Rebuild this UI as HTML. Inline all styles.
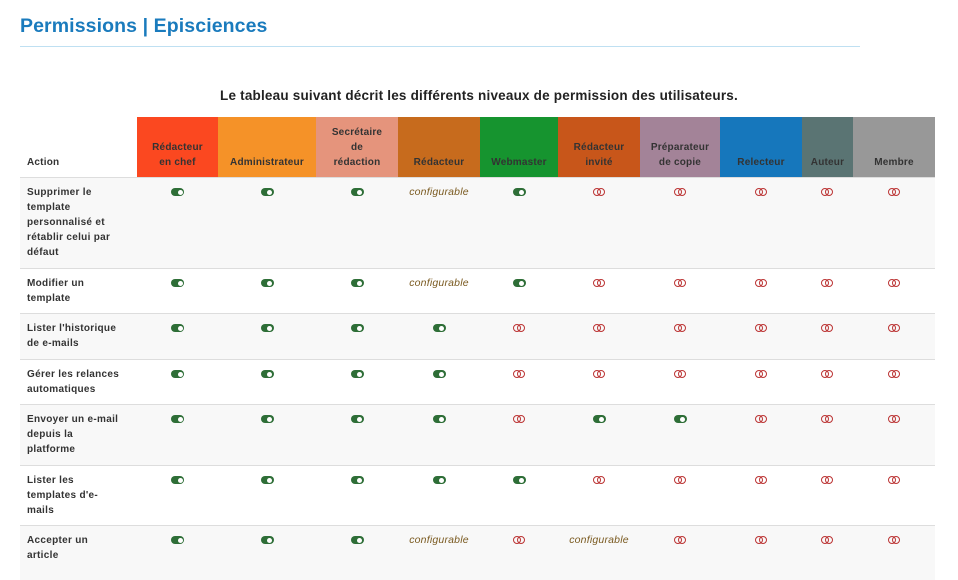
<!DOCTYPE html>
<html><head><meta charset="utf-8">
<style>
body{margin:0;width:958px;height:567px;overflow:hidden;background:#fff;font-family:"Liberation Sans",sans-serif;position:relative}
.title{position:absolute;left:20px;top:15px;font-size:19.5px;color:#1a7bbd;font-weight:bold;letter-spacing:0.1px}
.rule{position:absolute;left:20px;top:46px;width:840px;height:1px;background:#bfe0f2}
.sub{position:absolute;left:0;width:958px;top:88px;text-align:center;font-size:13.5px;font-weight:bold;color:#222;letter-spacing:0.2px}
.hc{position:absolute;top:117px;height:60px;display:flex;align-items:flex-end;justify-content:center;text-align:center;font-size:10px;font-weight:bold;color:#333;line-height:15px;padding-bottom:7px;box-sizing:border-box;letter-spacing:0.2px}
.row{position:absolute;left:20px;width:915px;border-top:1px solid #ddd;box-sizing:border-box}
.act{position:absolute;left:27px;width:110px;font-size:10px;font-weight:bold;color:#333;line-height:15px;letter-spacing:0.3px}
.cell{position:absolute;text-align:center;font-size:10.5px;line-height:15px}
.on{display:inline-block;width:13px;height:8px;border-radius:4px;background:#2e6e37;position:relative;vertical-align:middle}
.on::after{content:"";position:absolute;right:1.5px;top:1.5px;width:5px;height:5px;border-radius:50%;background:#fff}
.off{display:inline-block;width:13px;height:8px;position:relative;vertical-align:middle}
.off::before,.off::after{content:"";position:absolute;top:0;width:6px;height:6px;border:1px solid #b33;border-radius:50%}
.off::before{left:0}.off::after{left:4px}
.cfg{font-style:italic;color:#7a5a20;letter-spacing:0.2px}
</style></head><body>
<div class="title">Permissions | Episciences</div>
<div class="rule"></div>
<div class="sub">Le tableau suivant décrit les différents niveaux de permission des utilisateurs.</div>
<div id="t"></div>
<script>
const roles=["Rédacteur<br>en chef","Administrateur","Secrétaire<br>de<br>rédaction","Rédacteur","Webmaster","Rédacteur<br>invité","Préparateur<br>de copie","Relecteur","Auteur","Membre"];
const roleColors=["#fb4820","#f59228","#e5947c","#c76b1d","#16942f","#c8561a","#a38398","#1677bc","#5a7473","#989898"];
const actions=["Supprimer le<br>template<br>personnalisé et<br>rétablir celui par<br>défaut","Modifier un<br>template","Lister l'historique<br>de e-mails","Gérer les relances<br>automatiques","Envoyer un e-mail<br>depuis la<br>platforme","Lister les<br>templates d'e-<br>mails","Accepter un<br>article"];
const perms=["111c100000","111c100000","1111000000","1111000000","1111011000","1111100000","111c0c0000"];
const colX=[137,218,316,398,480,558,640,720,802,853,935];
const rowY=[177,268,313,359,404,465,525,580];
const t=document.getElementById('t');
let h=document.createElement('div');h.className='hc';h.style.left='20px';h.style.width='117px';h.style.justifyContent='flex-start';h.style.paddingLeft='7px';h.innerHTML='Action';


t.appendChild(h);
roles.forEach((r,i)=>{const d=document.createElement('div');d.className='hc';d.style.left=colX[i]+'px';d.style.width=(colX[i+1]-colX[i])+'px';d.style.background=roleColors[i];d.innerHTML=r;


t.appendChild(d);});
actions.forEach((a,r)=>{
const row=document.createElement('div');row.className='row';row.style.top=rowY[r]+'px';row.style.height=(rowY[r+1]-rowY[r])+'px';row.style.background=r%2==0?'#f8f8f8':'#fff';


t.appendChild(row);
const ac=document.createElement('div');ac.className='act';ac.style.top=(rowY[r]+8)+'px';ac.innerHTML=a;


t.appendChild(ac);
for(let c=0;c<10;c++){const v=perms[r][c];const d=document.createElement('div');d.className='cell';d.style.left=colX[c]+'px';d.style.width=(colX[c+1]-colX[c])+'px';d.style.top=(rowY[r]+8)+'px';
d.innerHTML=v=='1'?'<span class="on"></span>':v=='0'?'<span class="off"></span>':'<span class="cfg">configurable</span>';


t.appendChild(d);}
});
</script>
</body></html>
